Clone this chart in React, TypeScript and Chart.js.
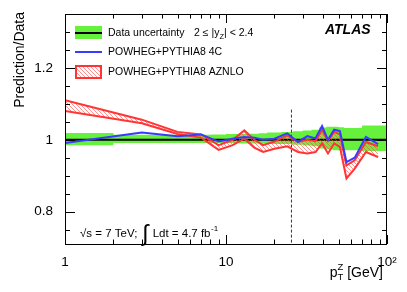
import React, { useEffect, useRef } from 'react';
import { Chart, registerables } from 'chart.js';

Chart.register(...registerables);

// ---- data ----
const ptCenters = [1, 3, 5, 7, 9, 11, 13, 15, 17, 20, 24, 28, 32, 36, 39.5, 43, 47, 51, 56, 63, 74, 88];
const powheg4C = [0.991, 1.02, 1.01, 1.015, 0.995, 1.003, 1.008, 1.006, 1.0, 1.003, 1.018, 0.994, 1.01, 1.004, 1.038, 1.0, 1.028, 1.024, 0.938, 0.95, 1.008, 0.988];
const aznloUpper = [1.11, 1.056, 1.022, 1.015, 0.985, 1.0, 1.026, 1.0, 0.985, 0.995, 1.012, 0.994, 1.0, 0.996, 1.028, 0.997, 1.022, 1.015, 0.929, 0.943, 0.994, 0.982];
const aznloLower = [1.08, 1.046, 1.016, 1.006, 0.972, 0.985, 1.003, 0.978, 0.966, 0.975, 0.982, 0.966, 0.962, 0.966, 0.99, 0.962, 0.99, 0.98, 0.892, 0.92, 0.966, 0.952];
const binEdges = [1, 2, 4, 6, 8, 10, 12, 14, 16, 18, 22, 26, 30, 34, 38, 42, 46, 50, 54, 60, 70, 80, 100];
const dataUncUp = [0.019, 0.014, 0.014, 0.014, 0.015, 0.016, 0.016, 0.017, 0.018, 0.02, 0.022, 0.024, 0.026, 0.028, 0.034, 0.036, 0.036, 0.035, 0.033, 0.033, 0.04, 0.04];
const dataUncDown = [0.015, 0.009, 0.009, 0.009, 0.009, 0.009, 0.01, 0.01, 0.011, 0.012, 0.012, 0.014, 0.016, 0.018, 0.024, 0.027, 0.029, 0.029, 0.029, 0.029, 0.031, 0.031];
const cutPt = 25.5;
const cutTop = 1.084;
const xMin = 1;
const xMax = 100;
const yMin = 0.71;
const yMax = 1.35;
const xMajorTicks = [1, 10, 100];
const xMinorTicks = [2, 3, 4, 5, 6, 7, 8, 9, 20, 30, 40, 50, 60, 70, 80, 90];
const yAllTicks = [0.75, 0.8, 0.85, 0.9, 0.95, 1.0, 1.05, 1.1, 1.15, 1.2, 1.25, 1.3];
const yLabelledTicks = [0.8, 1.0, 1.2];
const xTickLabels: Record<number, string> = { 1: '1', 10: '10', 100: '10\u00B2' };
const yTickLabels: Record<string, string> = { '0.80': '0.8', '1.00': '1', '1.20': '1.2' };

const FONT = "'Liberation Sans', Arial, Helvetica, sans-serif";
const GREEN = '#66f23c';
const RED = '#ff3434';
const BLUE = '#3a3aff';

function makeHatch(): CanvasPattern | string {
  const c = document.createElement('canvas');
  c.width = 4;
  c.height = 4;
  const g = c.getContext('2d');
  if (!g) return 'rgba(255,80,80,0.3)';
  g.strokeStyle = 'rgba(255,70,70,0.85)';
  g.lineWidth = 0.7;
  g.beginPath();
  g.moveTo(0, 0); g.lineTo(4, 4);
  g.moveTo(-1, 3); g.lineTo(1, 5);
  g.moveTo(3, -1); g.lineTo(5, 1);
  g.stroke();
  const p = g.createPattern(c, 'repeat');
  return p || 'rgba(255,80,80,0.3)';
}

const decorPlugin = {
  id: 'decor',
  afterDraw(chart: any) {
    const ctx: CanvasRenderingContext2D = chart.ctx;
    const { left, right, top, bottom } = chart.chartArea;
    const xs = chart.scales.x;
    const ys = chart.scales.y;
    const hatch = (chart as any).$hatch;
    ctx.save();
    // frame
    ctx.strokeStyle = '#000';
    ctx.lineWidth = 1;
    ctx.strokeRect(left + 0.5, top + 0.5, right - left - 1, bottom - top);
    // y ticks
    ctx.beginPath();
    yAllTicks.forEach((v) => {
      const py = Math.round(ys.getPixelForValue(v)) + 0.5;
      const major = yLabelledTicks.some((m) => Math.abs(m - v) < 1e-6);
      const len = major ? 10 : 5;
      ctx.moveTo(left, py); ctx.lineTo(left + len, py);
      ctx.moveTo(right, py); ctx.lineTo(right - len, py);
    });
    // x ticks
    const xt = [...xMajorTicks.map((v) => [v, 9]), ...xMinorTicks.map((v) => [v, 4.5])];
    xt.forEach(([v, len]) => {
      const px = Math.round(xs.getPixelForValue(v)) + 0.5;
      ctx.moveTo(px, bottom); ctx.lineTo(px, bottom - len);
      ctx.moveTo(px, top); ctx.lineTo(px, top + len);
    });
    ctx.stroke();

    // legend
    const sx0 = 75, sx1 = 102, tx = 108;
    // row 1
    ctx.fillStyle = GREEN;
    ctx.fillRect(sx0, 26, sx1 - sx0, 13);
    ctx.strokeStyle = '#000';
    ctx.lineWidth = 2;
    ctx.beginPath(); ctx.moveTo(sx0, 33); ctx.lineTo(sx1, 33); ctx.stroke();
    // row 2
    ctx.strokeStyle = BLUE;
    ctx.lineWidth = 2;
    ctx.beginPath(); ctx.moveTo(sx0, 52); ctx.lineTo(sx1, 52); ctx.stroke();
    // row 3
    ctx.fillStyle = hatch || 'rgba(255,80,80,0.3)';
    ctx.fillRect(sx0, 65, sx1 - sx0, 14);
    ctx.strokeStyle = RED;
    ctx.lineWidth = 2;
    ctx.strokeRect(sx0 + 1, 66, sx1 - sx0 - 2, 12);

    ctx.fillStyle = '#000';
    ctx.textBaseline = 'middle';
    ctx.textAlign = 'left';
    ctx.font = `10.5px ${FONT}`;
    ctx.fillText('Data uncertainty', tx, 33);
    let x = 194;
    ctx.fillText('2 \u2264 |y', x, 33);
    x += ctx.measureText('2 \u2264 |y').width;
    ctx.font = `7.5px ${FONT}`;
    ctx.fillText('Z', x, 37);
    x += ctx.measureText('Z').width;
    ctx.font = `10.5px ${FONT}`;
    ctx.fillText('| < 2.4', x, 33);
    ctx.fillText('POWHEG+PYTHIA8 4C', tx, 52);
    ctx.fillText('POWHEG+PYTHIA8 AZNLO', tx, 72);

    // ATLAS
    ctx.font = `italic bold 14px ${FONT}`;
    ctx.fillText('ATLAS', 325, 30);

    // energy / lumi
    ctx.font = `11.5px ${FONT}`;
    ctx.textBaseline = 'alphabetic';
    let ex = 80;
    const by = 237;
    ctx.fillText('\u221As = 7 TeV;', ex, by);
    ex += ctx.measureText('\u221As = 7 TeV;').width + 5;
    ctx.font = `23px ${FONT}`;
    ctx.fillText('\u222B', ex, by + 4);
    ex += ctx.measureText('\u222B').width + 4;
    ctx.font = `11.5px ${FONT}`;
    ctx.fillText('Ldt = 4.7 fb', ex, by);
    ex += ctx.measureText('Ldt = 4.7 fb').width;
    ctx.font = `8px ${FONT}`;
    ctx.fillText('-1', ex + 0.5, by - 6);

    // y title
    ctx.save();
    ctx.translate(20, 12);
    ctx.rotate(-Math.PI / 2);
    ctx.font = `14px ${FONT}`;
    ctx.textAlign = 'right';
    ctx.textBaseline = 'middle';
    ctx.fillText('Prediction/Data', 0, 0);
    ctx.restore();

    // x title: p_T^Z [GeV], right aligned
    ctx.textAlign = 'left';
    ctx.textBaseline = 'alphabetic';
    const bl = 277;
    ctx.font = `14px ${FONT}`;
    const wp = ctx.measureText('p').width;
    const wg = ctx.measureText(' [GeV]').width;
    ctx.font = `9.5px ${FONT}`;
    const wz = Math.max(ctx.measureText('Z').width, ctx.measureText('T').width);
    let px = 383 - (wp + wz + wg);
    ctx.font = `14px ${FONT}`;
    ctx.fillText('p', px, bl);
    px += wp;
    ctx.font = `9.5px ${FONT}`;
    ctx.fillText('Z', px, bl - 7);
    ctx.fillText('T', px, bl + 3);
    px += wz;
    ctx.font = `14px ${FONT}`;
    ctx.fillText(' [GeV]', px, bl);
    ctx.restore();
  },
};

export default function App() {
  const ref = useRef<HTMLCanvasElement | null>(null);
  useEffect(() => {
    const canvas = ref.current;
    if (!canvas) return;
    const hatch = makeHatch();
    const pts = (ys: number[]) => ptCenters.map((x, i) => ({ x, y: ys[i] }));
    const band = (sign: number, arr: number[]) =>
      binEdges.map((x, i) => ({ x, y: 1 + sign * arr[Math.min(i, arr.length - 1)] }));
    const chart = new Chart(canvas, {
      type: 'line',
      data: {
        datasets: [
          { label: 'POWHEG+PYTHIA8 4C', data: pts(powheg4C), borderColor: BLUE, borderWidth: 2, pointRadius: 0, fill: false, order: 0 },
          { label: 'AZNLO up', data: pts(aznloUpper), borderColor: RED, borderWidth: 2, pointRadius: 0, fill: '+1', backgroundColor: hatch as any, order: 1 },
          { label: 'AZNLO down', data: pts(aznloLower), borderColor: RED, borderWidth: 2, pointRadius: 0, fill: false, order: 2 },
          { label: 'cut', data: [{ x: cutPt, y: cutTop }, { x: cutPt, y: yMin }], borderColor: '#333', borderWidth: 1, borderDash: [3, 2], pointRadius: 0, fill: false, order: 3 },
          { label: 'unity', data: [{ x: xMin, y: 1 }, { x: xMax, y: 1 }], borderColor: '#000', borderWidth: 2, pointRadius: 0, fill: false, order: 4 },
          { label: 'Data up', data: band(1, dataUncUp), stepped: 'before', borderWidth: 0, borderColor: GREEN, pointRadius: 0, fill: '+1', backgroundColor: GREEN, order: 5 },
          { label: 'Data down', data: band(-1, dataUncDown), stepped: 'before', borderWidth: 0, borderColor: GREEN, pointRadius: 0, fill: false, order: 6 },
        ],
      },
      options: {
        animation: false,
        responsive: false,
        devicePixelRatio: 1,
        layout: { padding: { left: 0, right: 20, top: 14, bottom: 0 } },
        plugins: { legend: { display: false }, tooltip: { enabled: false }, title: { display: false } },
        elements: { line: { tension: 0 } },
        scales: {
          x: {
            type: 'logarithmic',
            min: xMin,
            max: xMax,
            grid: { display: false },
            border: { display: false },
            afterBuildTicks: (s: any) => {
              s.ticks = [...xMajorTicks, ...xMinorTicks].sort((a, b) => a - b).map((v) => ({ value: v }));
            },
            afterFit: (s: any) => { s.height = 48; },
            ticks: {
              autoSkip: false,
              maxRotation: 0,
              minRotation: 0,
              padding: 2,
              color: '#000',
              font: { family: FONT, size: 13.5 },
              callback: (v: any) => xTickLabels[Number(v)] ?? '',
            },
          },
          y: {
            type: 'linear',
            min: yMin,
            max: yMax,
            grid: { display: false },
            border: { display: false },
            afterBuildTicks: (s: any) => { s.ticks = yAllTicks.map((v) => ({ value: v })); },
            afterFit: (s: any) => { s.width = 65; },
            ticks: {
              autoSkip: false,
              padding: 4,
              color: '#000',
              font: { family: FONT, size: 13.5 },
              callback: (v: any) => yTickLabels[Number(v).toFixed(2)] ?? '',
            },
          },
        },
      },
      plugins: [decorPlugin],
    });
    (chart as any).$hatch = hatch;
    chart.draw();
    return () => chart.destroy();
  }, []);
  return (
    <div style={{ position: 'fixed', left: 0, top: 0, width: 407, height: 292, background: '#fff' }}>
      <canvas ref={ref} width={407} height={292} style={{ display: 'block' }} />
    </div>
  );
}
